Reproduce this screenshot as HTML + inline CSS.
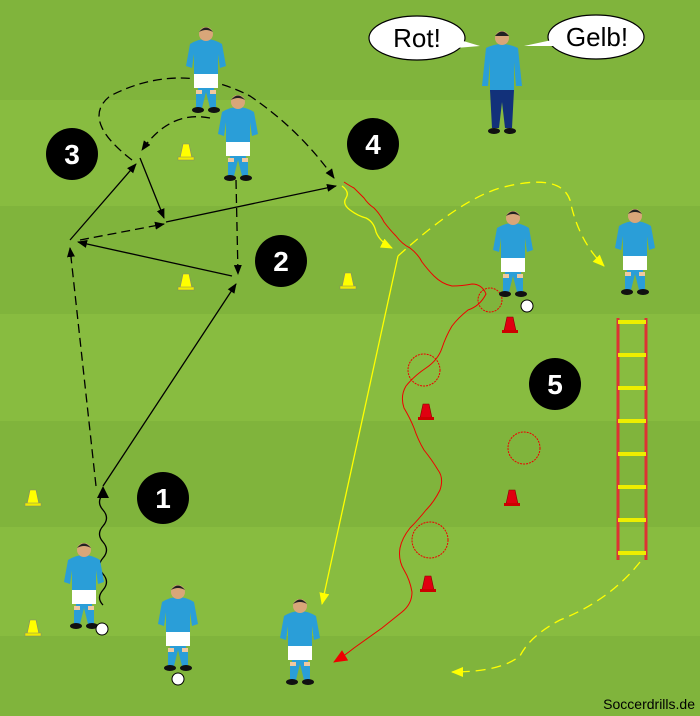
<!DOCTYPE html>
<html><head><meta charset="utf-8"><style>
html,body{margin:0;padding:0;width:700px;height:716px;overflow:hidden}
svg{display:block}
</style></head><body>
<svg width="700" height="716" viewBox="0 0 700 716" xmlns="http://www.w3.org/2000/svg" font-family="Liberation Sans, sans-serif">
<defs>
<marker id="ab" markerWidth="10" markerHeight="8" refX="9" refY="4" orient="auto" markerUnits="userSpaceOnUse"><path d="M0,0 L10,4 L0,8z" fill="#000"/></marker>
<marker id="ay" markerWidth="12" markerHeight="10" refX="11" refY="5" orient="auto" markerUnits="userSpaceOnUse"><path d="M0,0 L12,5 L0,10z" fill="#ff0"/></marker>
<marker id="ar" markerWidth="14" markerHeight="12" refX="13" refY="6" orient="auto" markerUnits="userSpaceOnUse"><path d="M0,0 L14,6 L0,12z" fill="#e00"/></marker>
<g id="cone"><path d="M-3,-10 L3,-10 L6,4 L-6,4z" fill="#ff0" stroke="#886" stroke-width="0.6"/><rect x="-8" y="3" width="16" height="3" fill="#ee0" stroke="#886" stroke-width="0.5"/></g>
<g id="rcone"><path d="M-3,-10 L3,-10 L6,4 L-6,4z" fill="#e00010" stroke="#800" stroke-width="0.6"/><rect x="-8" y="3" width="16" height="3" fill="#c00" /></g>
<g id="pl">
<path d="M-10,18 L-8,58 L-10,76 L-4,76 L0,60 L4,76 L10,76 L8,58 L10,18z" fill="#2a9ed8"/>
<path d="M-16,12 Q0,2 16,12 L20,34 L14,36 L12,22 L12,44 L-12,44 L-12,22 L-14,36 L-20,34z" fill="#2a9ed8"/>
<rect x="-12" y="42" width="24" height="14" fill="#fff"/>
<rect x="-10" y="58" width="6" height="16" fill="#f0c8a0"/><rect x="4" y="58" width="6" height="16" fill="#f0c8a0"/>
<rect x="-10" y="62" width="6" height="14" fill="#2a9ed8"/><rect x="4" y="62" width="6" height="14" fill="#2a9ed8"/>
<ellipse cx="-8" cy="78" rx="6" ry="3" fill="#111"/><ellipse cx="8" cy="78" rx="6" ry="3" fill="#111"/>
<circle cx="0" cy="2" r="7" fill="#d9a679"/><path d="M-7,0 Q0,-9 7,0 Q0,-4 -7,0z" fill="#222"/>
</g>
</defs>
<rect width="700" height="716" fill="#80b43c"/>
<rect y="100" width="700" height="106" fill="#88bc40"/>
<rect y="314" width="700" height="107" fill="#88bc40"/>
<rect y="527" width="700" height="109" fill="#88bc40"/>

<!-- numbers -->
<g fill="#000"><circle cx="72" cy="154" r="26"/><circle cx="373" cy="144" r="26"/><circle cx="281" cy="261" r="26"/><circle cx="555" cy="384" r="26"/><circle cx="163" cy="498" r="26"/></g>
<g fill="#fff" font-size="28" font-weight="bold" text-anchor="middle">
<text x="72" y="164">3</text><text x="373" y="154">4</text><text x="281" y="271">2</text><text x="555" y="394">5</text><text x="163" y="508">1</text></g>

<!-- cones -->
<use href="#cone" x="186" y="154"/><use href="#cone" x="186" y="284"/><use href="#cone" x="348" y="283"/>
<use href="#cone" x="33" y="500"/><use href="#cone" x="33" y="630"/>
<use href="#rcone" x="510" y="327"/><use href="#rcone" x="426" y="414"/><use href="#rcone" x="512" y="500"/><use href="#rcone" x="428" y="586"/>

<!-- black lines -->
<g stroke="#000" stroke-width="1.3" fill="none">
<path d="M103,486 L236,284" marker-end="url(#ab)"/>
<path d="M96,486 L70,248" stroke-dasharray="9,5" marker-end="url(#ab)"/>
<path d="M70,240 L136,164" marker-end="url(#ab)"/>
<path d="M140,158 L164,218" marker-end="url(#ab)"/>
<path d="M80,240 L164,224" stroke-dasharray="9,5" marker-end="url(#ab)"/>
<path d="M232,276 L78,242" marker-end="url(#ab)"/>
<path d="M166,222 L336,186" marker-end="url(#ab)"/>
<path d="M236,180 L238,274" stroke-dasharray="9,5" marker-end="url(#ab)"/>
<path d="M132,160 Q80,120 110,96 Q180,60 250,96 Q300,130 334,178" stroke-dasharray="9,5" marker-end="url(#ab)"/>
<path d="M210,118 Q170,110 142,150" stroke-dasharray="9,5" marker-end="url(#ab)"/>
<path d="M103,605 Q96,598 103,590 Q110,582 103,574 Q96,566 103,558 Q110,550 103,542 Q96,534 103,526 Q110,518 103,510 Q96,502 103,494"/>
</g>
<path d="M103,486 L97,498 L109,498z" fill="#000"/>

<!-- yellow lines -->
<g stroke="#ff0" stroke-width="1.3" fill="none">
<path d="M342,186 q8,6 4,12 q-4,6 4,12 q8,6 16,8 q8,4 10,14 q4,10 16,16" marker-end="url(#ay)"/>
<path d="M398,256 L322,604" marker-end="url(#ay)"/>
<path d="M398,256 Q460,200 500,188 Q560,172 570,200 Q578,240 604,266" stroke-dasharray="10,6" marker-end="url(#ay)"/>
<path d="M640,562 Q610,600 560,620 Q530,636 520,656 Q500,672 452,672" stroke-dasharray="10,6" marker-end="url(#ay)"/>
</g>

<!-- red wiggly path -->
<path d="M344,182 q6,4 10,6 q6,6 10,10 q4,6 10,10 q6,6 10,14 q6,8 12,14 q6,8 14,12 q8,6 12,14 q6,8 12,14 q8,8 18,10 q10,0 20,-2 q10,0 14,10 q-6,12 -18,16 q-10,8 -16,16 q-6,10 -10,22 q-4,12 -16,20 q-12,8 -20,18 q-6,10 -2,22 q6,10 10,20 q4,12 10,22 q8,10 14,20 q6,8 2,20 q-6,12 -14,20 q-8,10 -16,18 q-8,10 -10,20 q-2,12 4,22 q6,10 8,22 q0,12 -10,20 q-10,8 -20,16 q-14,10 -28,20 q-10,8 -20,14" stroke="#e00" stroke-width="1" fill="none" marker-end="url(#ar)"/>
<g stroke="#e00" stroke-width="1" fill="none" stroke-dasharray="2,1">
<circle cx="424" cy="370" r="16"/><circle cx="524" cy="448" r="16"/><circle cx="430" cy="540" r="18"/><circle cx="490" cy="300" r="12"/></g>

<!-- ladder -->
<g stroke="#d33" stroke-width="3"><line x1="618" y1="318" x2="618" y2="560"/><line x1="646" y1="318" x2="646" y2="560"/></g>
<g stroke="#ee0" stroke-width="4">
<line x1="618" y1="322" x2="646" y2="322"/><line x1="618" y1="355" x2="646" y2="355"/><line x1="618" y1="388" x2="646" y2="388"/><line x1="618" y1="421" x2="646" y2="421"/><line x1="618" y1="454" x2="646" y2="454"/><line x1="618" y1="487" x2="646" y2="487"/><line x1="618" y1="520" x2="646" y2="520"/><line x1="618" y1="553" x2="646" y2="553"/></g>

<!-- players -->
<use href="#pl" x="206" y="32"/>
<use href="#pl" x="238" y="100"/>
<use href="#pl" x="513" y="216"/>
<use href="#pl" x="635" y="214"/>
<use href="#pl" x="84" y="548"/>
<use href="#pl" x="178" y="590"/>
<use href="#pl" x="300" y="604"/>
<!-- coach -->
<g transform="translate(502,36)">
<path d="M-16,12 Q0,4 16,12 L20,50 L14,50 L12,26 L12,56 L-12,56 L-12,26 L-14,50 L-20,50z" fill="#2a9ed8"/>
<path d="M-12,54 L-10,92 L-3,92 L0,66 L3,92 L10,92 L12,54z" fill="#12317a"/>
<ellipse cx="-8" cy="95" rx="6" ry="3" fill="#111"/><ellipse cx="8" cy="95" rx="6" ry="3" fill="#111"/>
<circle cx="0" cy="2" r="7" fill="#d9a679"/><path d="M-7,0 Q0,-9 7,0z" fill="#222"/>
</g>
<!-- balls -->
<g fill="#fff" stroke="#000" stroke-width="1"><circle cx="102" cy="629" r="6"/><circle cx="178" cy="679" r="6"/><circle cx="527" cy="306" r="6"/></g>

<!-- speech bubbles -->
<g fill="#fff" stroke="#000" stroke-width="1.2">
<ellipse cx="417" cy="38" rx="48" ry="22"/><ellipse cx="596" cy="37" rx="48" ry="22"/></g>
<path d="M456,48 L480,46 L460,40z" fill="#fff"/><path d="M556,46 L524,46 L552,40z" fill="#fff"/>
<g font-size="26" text-anchor="middle" fill="#000"><text x="417" y="47">Rot!</text><text x="597" y="46">Gelb!</text></g>
<text x="695" y="709" font-size="14" text-anchor="end" fill="#000">Soccerdrills.de</text>
</svg>
</body></html>
